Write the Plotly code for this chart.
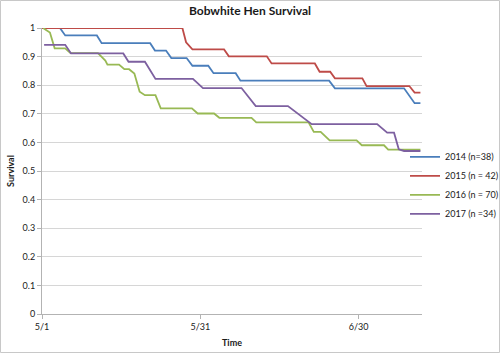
import plotly.graph_objects as go

# Day offsets from 5/1 and survival estimates
days_2014 = [0, 3.4, 4.4, 10.4, 11.3, 20.5, 21.4, 23.5, 24.5, 27.4, 28.5, 31.5, 32.5, 36.7, 37.6, 54.4, 55.5, 68.6, 70.6, 71.7]
surv_2014 = [1, 1, .974, .974, .947, .947, .921, .921, .895, .895, .868, .868, .842, .842, .816, .816, .789, .789, .737, .737]

days_2015 = [0, 26.6, 27.3, 28.5, 34.5, 35.4, 42.6, 43.5, 51.7, 52.6, 54.6, 55.5, 60.7, 61.5, 69.6, 70.6, 71.7]
surv_2015 = [1, 1, .95, .925, .925, .901, .901, .876, .876, .847, .847, .824, .824, .797, .797, .774, .774]

days_2016 = [0.2, 1.5, 2.4, 4.4, 5.4, 10.6, 12.0, 12.4, 14.6, 15.6, 16.5, 17.5, 18.5, 19.5, 21.5, 22.5,
             28.4, 29.5, 32.6, 33.6, 39.7, 40.6, 50.5, 51.5, 52.8, 54.5, 59.6, 60.6, 64.8, 65.6, 71.7]
surv_2016 = [1.0, .984, .929, .929, .912, .912, .886, .872, .872, .856, .856, .841, .777, .765, .765, .719,
             .719, .701, .701, .686, .686, .670, .670, .637, .637, .607, .607, .590, .590, .575, .575]

days_2017 = [0.4, 4.4, 5.5, 15.4, 16.4, 19.5, 21.5, 28.6, 30.5, 37.8, 40.5, 46.6, 51.1, 63.5, 65.4, 66.7, 67.6, 68.6, 71.7]
surv_2017 = [.941, .941, .911, .911, .882, .882, .822, .822, .790, .790, .727, .727, .664, .664, .634, .634, .576, .570, .570]

series_names = ["2014 (n=38)", "2015 (n = 42)", "2016 (n = 70)", "2017 (n =34)"]
series_colors = ["#4A7EBB", "#BE4B48", "#98B954", "#7D60A0"]

x_tick_days = [0, 30, 60]
x_tick_labels = ["5/1", "5/31", "6/30"]
y_tick_values = [0, 0.1, 0.2, 0.3, 0.4, 0.5, 0.6, 0.7, 0.8, 0.9, 1]
y_tick_labels = ["0", "0.1", "0.2", "0.3", "0.4", "0.5", "0.6", "0.7", "0.8", "0.9", "1"]

FONT = "Lato"
TXT = "#1a1a1a"

fig = go.Figure()
for xs, ys, name, col in zip([days_2014, days_2015, days_2016, days_2017],
                             [surv_2014, surv_2015, surv_2016, surv_2017],
                             series_names, series_colors):
    fig.add_trace(go.Scatter(x=xs, y=ys, mode="lines", name=name,
                             line=dict(color=col, width=1.8)))

W, H = 500, 353
ml, mr, mt, mb = 42, 78, 28, 39
pw, ph = W - ml - mr, H - mt - mb

fig.update_layout(
    width=W, height=H,
    margin=dict(l=ml, r=mr, t=mt, b=mb, pad=0, autoexpand=False),
    paper_bgcolor="white", plot_bgcolor="white",
    font=dict(family=FONT, size=9, color=TXT),
    title=dict(text="<b>Bobwhite Hen Survival</b>", x=0.5, xref="container", xanchor="center",
               y=1 - 11 / H, yref="container", yanchor="middle",
               font=dict(family=FONT, size=12, color=TXT)),
    showlegend=True,
    legend=dict(x=(405 - ml) / pw, xanchor="left", y=0.45, yanchor="middle",
                bgcolor="rgba(0,0,0,0)", font=dict(family=FONT, size=9, color=TXT),
                tracegroupgap=0),
    xaxis=dict(range=[0, 72], tickmode="array", tickvals=x_tick_days, ticktext=x_tick_labels,
               showgrid=False, zeroline=False, showline=True, linecolor="#b3b3b3", linewidth=1,
               ticks="outside", ticklen=4, tickcolor="#b3b3b3",
               tickfont=dict(family=FONT, size=9, color=TXT),
               title=dict(text="<b>Time</b>", font=dict(family=FONT, size=9, color=TXT), standoff=8)),
    yaxis=dict(range=[0, 1], tickmode="array", tickvals=y_tick_values, ticktext=y_tick_labels,
               showgrid=True, gridcolor="#d6d6d6", gridwidth=1, zeroline=False,
               showline=True, linecolor="#b3b3b3", linewidth=1,
               ticks="outside", ticklen=4, tickcolor="#b3b3b3",
               tickfont=dict(family=FONT, size=9, color=TXT),
               title=dict(text="<b>Survival</b>", font=dict(family=FONT, size=9, color=TXT), standoff=6)),
    shapes=[dict(type="rect", xref="paper", yref="paper",
                 x0=(0.5 - ml) / pw, x1=(W - 0.5 - ml) / pw,
                 y0=(H - mb - (H - 0.5)) / ph, y1=(H - mb - 0.5) / ph,
                 line=dict(color="#c8c8c8", width=1), fillcolor="rgba(0,0,0,0)", layer="below")],
)

fig.write_html("out.html")
